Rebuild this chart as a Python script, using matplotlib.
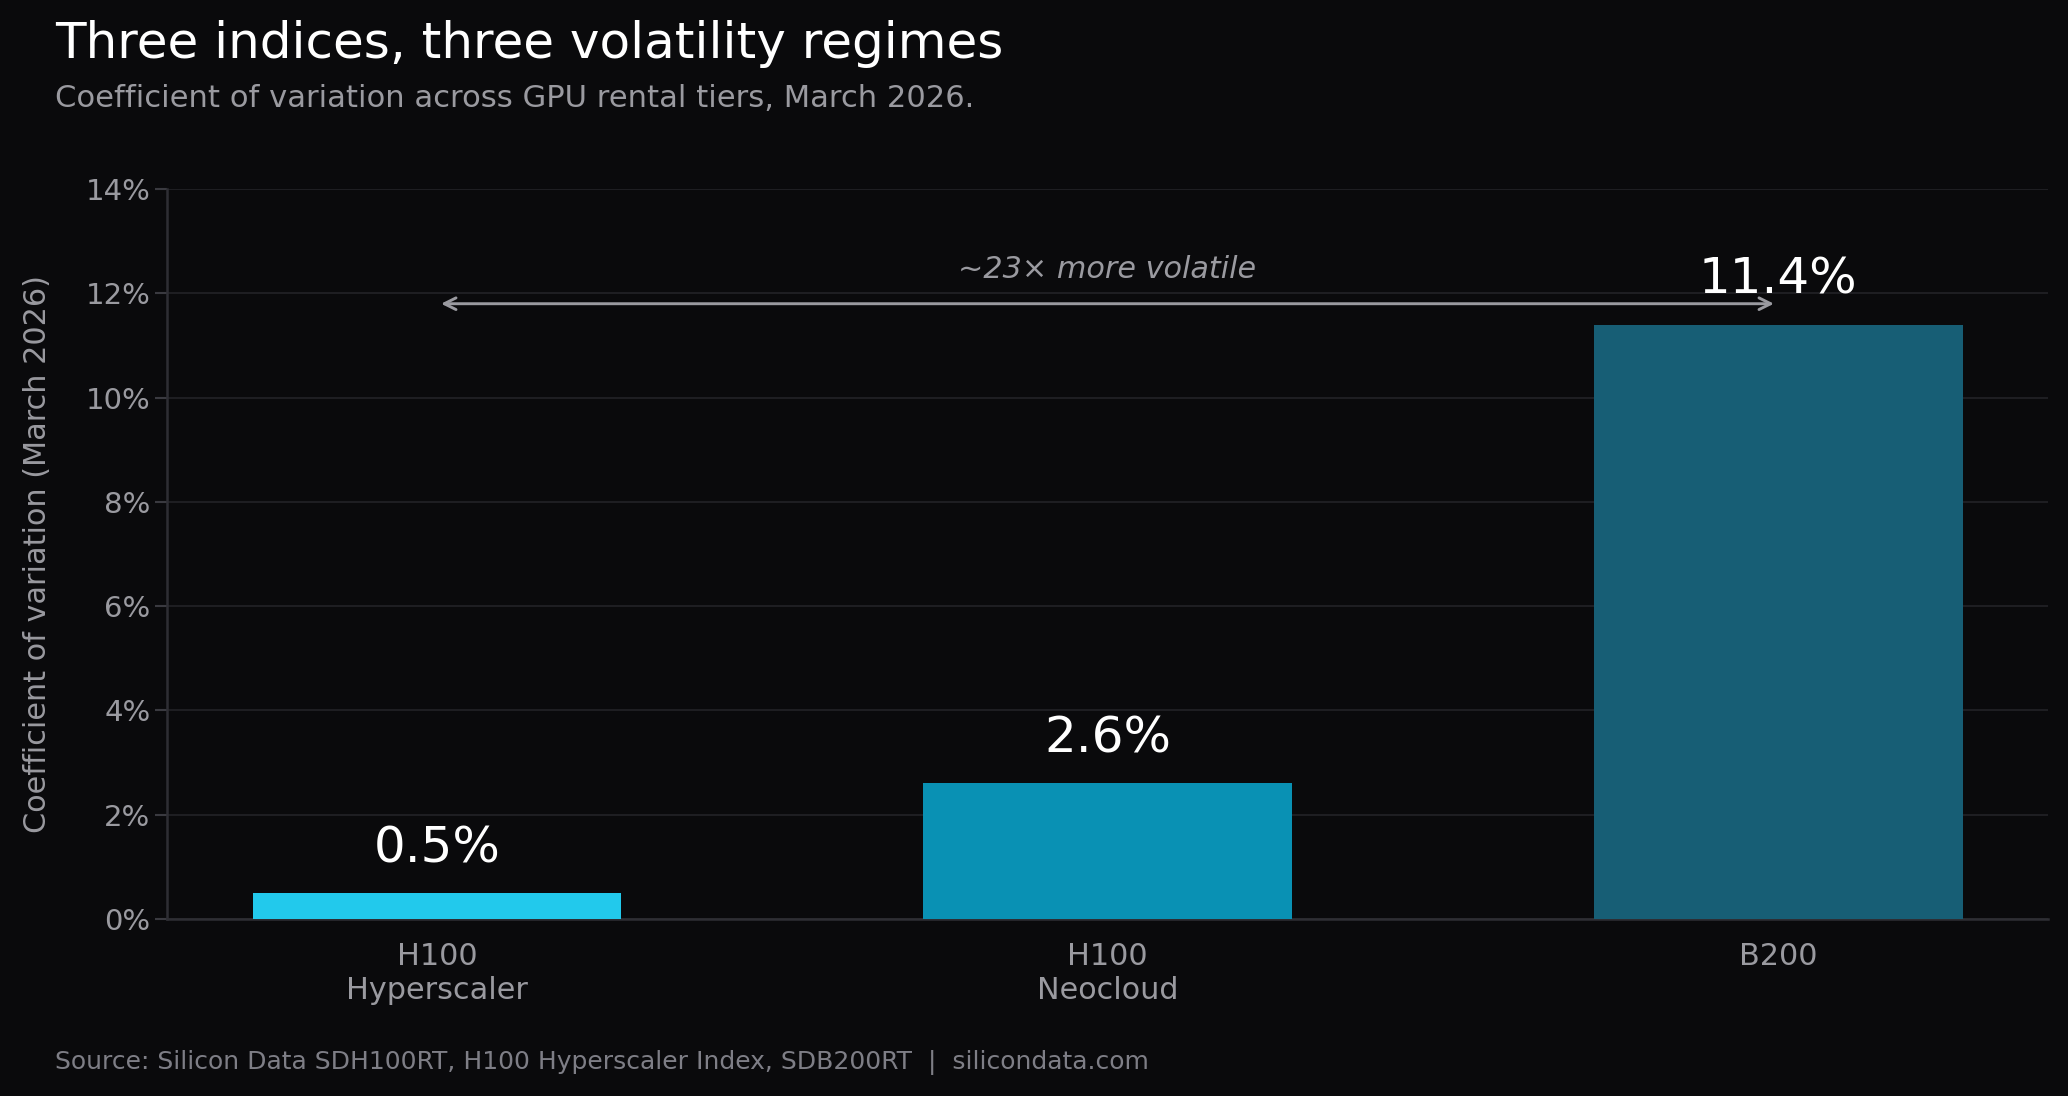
import matplotlib
matplotlib.use("Agg")
import matplotlib.pyplot as plt
from matplotlib.ticker import FuncFormatter

tiers = ["H100\nHyperscaler", "H100\nNeocloud", "B200"]
cv_pct = [0.5, 2.6, 11.4]
bar_colors = ["#22c9ec", "#0991b4", "#175e75"]
ratio_label = "~23\u00d7 more volatile"

bg = "#0a0a0c"
W, H = 2068, 1096
fig = plt.figure(figsize=(W / 150, H / 150), dpi=150, facecolor=bg)
fig.subplots_adjust(left=167 / W, right=2048 / W, top=1 - 189 / H, bottom=1 - 919 / H)
ax = fig.add_subplot(111)
ax.set_facecolor(bg)

x = range(len(tiers))
ax.bar(x, cv_pct, width=0.55, color=bar_colors, zorder=3)

for xi, v in zip(x, cv_pct):
    ax.text(xi, v + 0.4, f"{v:.1f}%", ha="center", va="bottom",
            color="white", fontsize=24, zorder=5)

# comparison arrow between first and last bar
ax.annotate("", xy=(2, 11.8), xytext=(0, 11.8),
            arrowprops=dict(arrowstyle="<->", color="#9a9aa0", lw=1.4,
                            mutation_scale=14), zorder=4)
ax.text(1, 12.18, ratio_label, ha="center", va="bottom", color="#9a9aa0",
        fontsize=14.5, style="italic")

ax.set_ylim(0, 14)
ax.set_yticks(range(0, 15, 2))
ax.yaxis.set_major_formatter(FuncFormatter(lambda v, p: f"{v:.0f}%"))
ax.set_xticks(list(x))
ax.set_xticklabels(tiers)
ax.tick_params(axis="x", length=0, pad=11, labelsize=14.5, colors="#9a9aa0")
ax.tick_params(axis="y", length=6, width=1, color="#3a3a40", labelsize=14,
               labelcolor="#9a9aa0", pad=2)
ax.grid(axis="y", color="#1e1e22", lw=1, zorder=0)
for s in ["top", "right"]:
    ax.spines[s].set_visible(False)
for s in ["left", "bottom"]:
    ax.spines[s].set_color("#2e2e34")
    ax.spines[s].set_linewidth(1.2)
ax.set_ylabel("Coefficient of variation (March 2026)", color="#9a9aa0",
              fontsize=14.5, labelpad=16)

fig.text(55 / W, 1 - 58 / H, "Three indices, three volatility regimes",
         color="white", fontsize=24, va="baseline")
fig.text(55 / W, 1 - 107 / H, "Coefficient of variation across GPU rental tiers, March 2026.",
         color="#9a9aa0", fontsize=14.7, va="baseline")
fig.text(55 / W, 1 - 1069 / H,
         "Source: Silicon Data SDH100RT, H100 Hyperscaler Index, SDB200RT  |  silicondata.com",
         color="#7e7e86", fontsize=12, va="baseline")

fig.savefig("out.png", dpi=150, facecolor=bg)
